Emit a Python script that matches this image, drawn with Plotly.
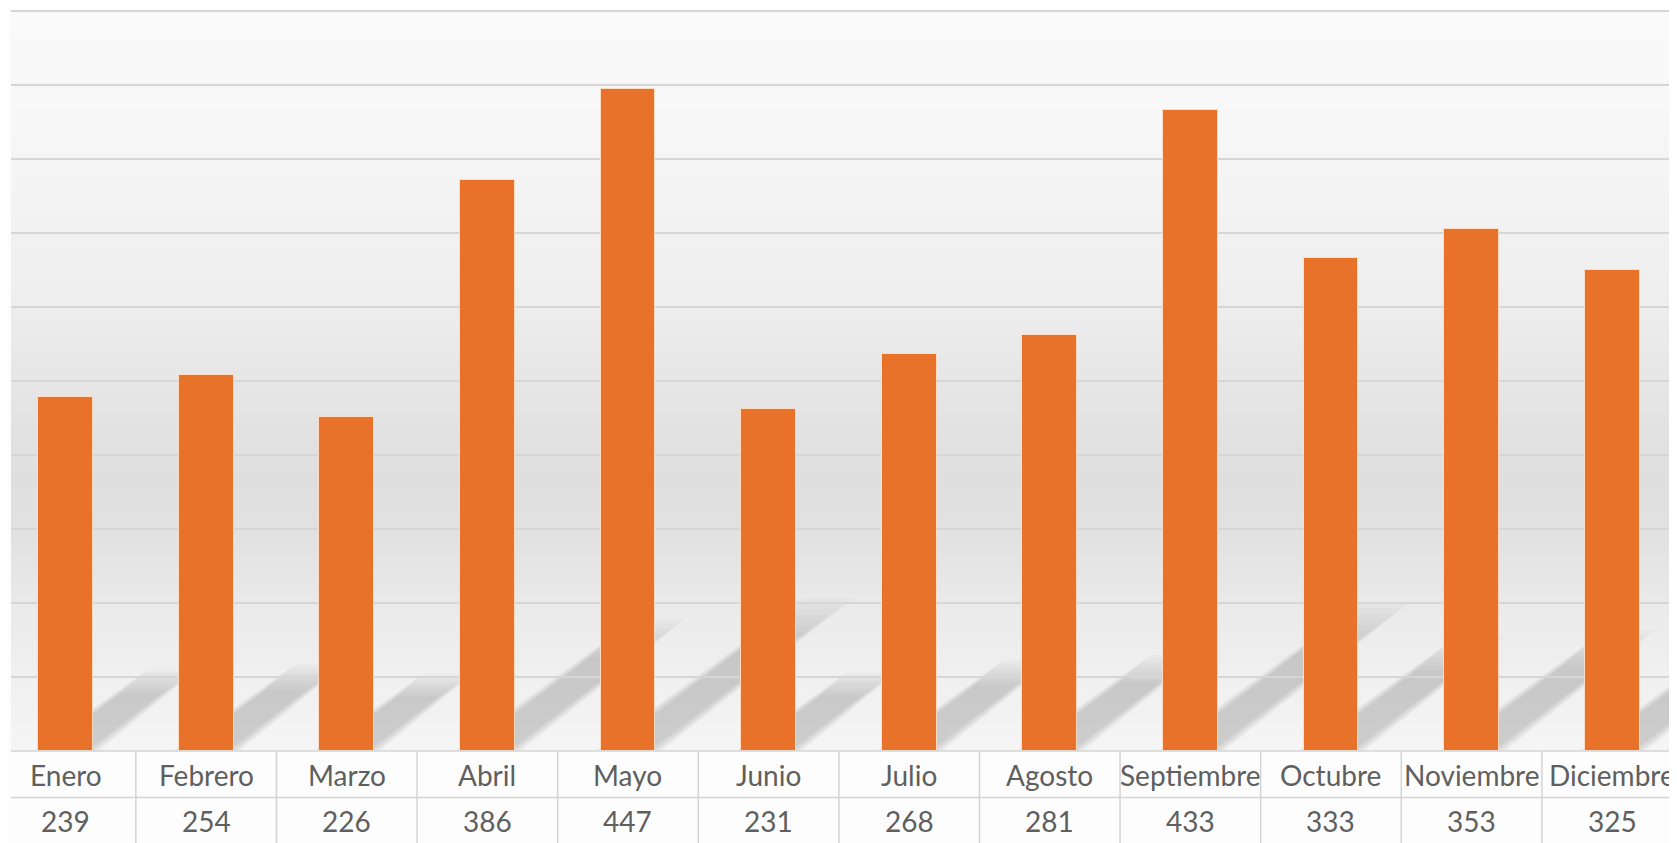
import plotly.graph_objects as go

months = ["Enero", "Febrero", "Marzo", "Abril", "Mayo", "Junio", "Julio",
          "Agosto", "Septiembre", "Octubre", "Noviembre", "Diciembre"]
values = [239, 254, 226, 386, 447, 231, 268, 281, 433, 333, 353, 325]

W, H = 1677, 843
OFF = 8  # page offset of the figure inside the browser body
ML, MR, MT, MB = 3, 8, 2.5, 99.5
PH = H - MT - MB
BASE_PAGE = OFF + H - MB

def py(page_y):
    return (BASE_PAGE - page_y) / PH

BW = 0.39
xs = list(range(len(months)))
fig = go.Figure(go.Bar(
    x=xs, y=values, width=BW,
    marker=dict(color="#E8722A", line=dict(color="rgba(255,225,200,0.9)", width=1)),
    hoverinfo="skip",
))

shapes = []
# background gradient bands (plot area)
stops = [(0.0, 245), (0.1, 240), (0.2, 234), (0.28, 226), (0.37, 223), (0.47, 228),
         (0.61, 238), (0.74, 243), (0.88, 248), (1.0, 250)]
def gray(t):
    for (a, ca), (b, cb) in zip(stops[:-1], stops[1:]):
        if a <= t <= b:
            f = (t - a) / (b - a)
            return int(round(ca + (cb - ca) * f))
    return stops[-1][1]
N = 90
for k in range(N):
    y0, y1 = k / N, (k + 1) / N
    g = gray((y0 + y1) / 2)
    shapes.append(dict(type="rect", xref="paper", yref="paper", x0=0, x1=1, y0=y0, y1=y1 + 0.002,
                       fillcolor=f"rgb({g},{g},{g})", line=dict(width=0), layer="below"))

# soft perspective shadows behind bars (derived from bar values), layered for blur
for i, v in enumerate(values):
    for k in range(9):
        grow = 0.012 * k
        scale = 0.78 + 0.04 * k
        dx = 0.00290 * v * scale
        dy = 0.21 * v * scale
        xl = i - BW / 2 + 0.05 - grow
        xr = i + BW / 2 - 0.05 + grow
        tl = xl + dx + 0.008 * k
        tr = xr + dx - 0.008 * k
        path = f"M {xl},0 L {xr},0 L {tr},{dy} L {tl},{dy} Z"
        shapes.append(dict(type="path", xref="x", yref="y", path=path,
                           fillcolor="rgba(80,80,80,0.032)", line=dict(width=0), layer="below"))

# top gridline
shapes.append(dict(type="line", xref="paper", yref="paper", x0=0, x1=1, y0=1, y1=1,
                   line=dict(color="#d6d6d6", width=2), layer="below"))

# table lines
line_c = "#d4d4d4"
shapes.append(dict(type="line", xref="paper", yref="paper", x0=0, x1=1, y0=0, y1=0,
                   line=dict(color=line_c, width=1.5)))
shapes.append(dict(type="line", xref="paper", yref="paper", x0=0, x1=1, y0=py(798), y1=py(798),
                   line=dict(color=line_c, width=1.5)))
for i in range(len(months)):
    shapes.append(dict(type="line", xref="x", yref="paper", x0=i + 0.5, x1=i + 0.5,
                       y0=0, y1=py(860), line=dict(color=line_c, width=1.5)))

annotations = []
for i, (m, v) in enumerate(zip(months, values)):
    annotations.append(dict(x=i, y=py(776), xref="x", yref="paper", text=m, showarrow=False,
                            yanchor="middle", font=dict(size=28, color="#5f5f5f", family="Lato")))
    annotations.append(dict(x=i, y=py(822), xref="x", yref="paper", text=str(v), showarrow=False,
                            yanchor="middle", font=dict(size=28, color="#5f5f5f", family="Lato")))

fig.update_layout(
    width=W, height=H,
    margin=dict(l=ML, r=MR, t=MT, b=MB, pad=0),
    paper_bgcolor="#fdfdfd",
    plot_bgcolor="rgba(0,0,0,0)",
    showlegend=False,
    bargap=0,
    xaxis=dict(range=[-0.388, 11.461], showgrid=False, zeroline=False, showticklabels=False,
               ticks="", showline=False),
    yaxis=dict(range=[0, 500], dtick=50, showgrid=True, gridcolor="#d6d6d6", gridwidth=2,
               zeroline=False, showticklabels=False, ticks="", showline=False),
    shapes=shapes,
    annotations=annotations,
)

fig.write_html("out.html")
